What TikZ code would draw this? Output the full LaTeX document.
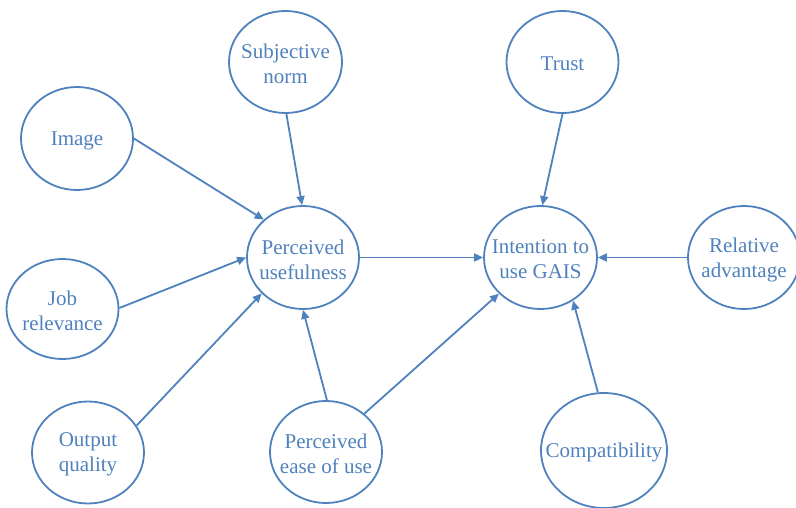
\documentclass[tikz,border=0pt]{standalone}
\usepackage{fontspec}
\setmainfont{Liberation Serif}
\usetikzlibrary{shapes.geometric,arrows.meta}
\definecolor{accent}{HTML}{4F81BD}
\tikzset{
  construct/.style={ellipse, draw=accent, line width=1.8pt, inner sep=0pt},
  caption/.style={text=accent, align=center, inner sep=0pt, yshift=-2pt,
    font=\fontsize{21}{25}\selectfont},
  link/.style={draw=accent, line width=1.8pt,
    -{Triangle[length=9pt,width=8pt]}}
}
% an ellipse of given size with centred text
\newcommand{\construct}[5]{%
  \node[construct, minimum width=#3pt, minimum height=#4pt,
        label={[caption]center:{#5}}] (#1) at (#2) {};}
\begin{document}
\begin{tikzpicture}[x=1pt,y=-1pt]
\useasboundingbox (0,0) rectangle (796,508);
\begin{scope}
\clip (0,0) rectangle (796,508);
\construct{sn}{285.5,62}{113}{102}{Subjective\\norm}
\construct{trust}{562.5,62}{112}{102}{Trust}
\construct{img}{77,138.5}{112}{103}{Image}
\construct{pu}{303,257.5}{112}{103}{Perceived\\usefulness}
\construct{itu}{540.5,257.5}{113}{103}{Intention to\\use GAIS}
\construct{ra}{744,257.5}{112}{103}{Relative\\advantage}
\construct{job}{62.5,309}{112}{100}{Job\\relevance}
\construct{oq}{88,452.5}{112}{102}{Output\\quality}
\construct{peou}{326,452}{112}{102}{Perceived\\ease of use}
\construct{comp}{604,450.5}{126}{115}{Compatibility}
\end{scope}
% paths between constructs
\draw[link] (sn.-89.5)  -- (pu.91);
\draw[link] (img.0)     -- (pu.136.8);
\draw[link] (job.1)     -- (pu.180);
\draw[link] (oq.29.3)   -- (pu.221.6);
\draw[link] (peou.89)   -- (pu.270);
\draw[link] (peou.45)   -- (itu.221.9);
\draw[link] (pu.0)      -- (itu.180);
\draw[link] (ra.180)    -- (itu.0);
\draw[link] (trust.-90) -- (itu.88);
\draw[link] (comp.96)   -- (itu.307.2);
\end{tikzpicture}
\end{document}
